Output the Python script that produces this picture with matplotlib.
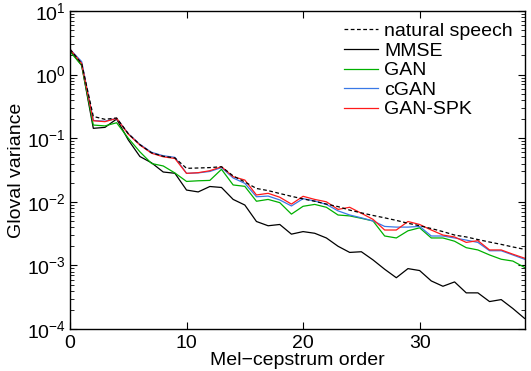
import matplotlib
matplotlib.use("Agg")
import matplotlib.pyplot as plt
import numpy as np

plt.rcParams['font.family'] = ['Liberation Sans', 'DejaVu Sans']
plt.rcParams['mathtext.fontset'] = 'custom'
plt.rcParams['mathtext.rm'] = 'Liberation Sans'
plt.rcParams['mathtext.it'] = 'Liberation Sans:italic'
plt.rcParams['mathtext.bf'] = 'Liberation Sans:bold'

order = list(range(40))

natural = [2.5, 1.5, 0.22, 0.198, 0.208, 0.118, 0.079, 0.059, 0.052, 0.049,
           0.0336, 0.034, 0.0345, 0.0356, 0.0255, 0.0205, 0.0162, 0.0150, 0.0135, 0.0122,
           0.0111, 0.0102, 0.0092, 0.0084, 0.0074, 0.0067, 0.0061, 0.0056, 0.0051, 0.0046,
           0.0042, 0.0038, 0.0034, 0.0030, 0.0028, 0.00255, 0.00233, 0.00214, 0.00195, 0.00179]

mmse = [2.4, 1.4, 0.143, 0.148, 0.20, 0.094, 0.0515, 0.041, 0.0294, 0.0281,
        0.0153, 0.0143, 0.0174, 0.0168, 0.0109, 0.0089, 0.0049, 0.0042, 0.0044, 0.0031,
        0.0034, 0.0032, 0.0027, 0.0020, 0.0016, 0.00164, 0.00122, 0.00087, 0.00064, 0.00089,
        0.00083, 0.00057, 0.00047, 0.00055, 0.00037, 0.00037, 0.00027, 0.00029, 0.00021, 0.000147]

gan = [2.3, 1.4, 0.161, 0.156, 0.175, 0.100, 0.061, 0.040, 0.0366, 0.0284,
       0.0209, 0.0214, 0.0217, 0.0324, 0.0184, 0.0175, 0.0102, 0.0109, 0.0097, 0.0064,
       0.0085, 0.0091, 0.0082, 0.0062, 0.0060, 0.0055, 0.0050, 0.0029, 0.0027, 0.0035,
       0.0039, 0.0027, 0.0027, 0.0024, 0.0019, 0.00175, 0.00146, 0.00125, 0.00117, 0.00093]

cgan = [2.5, 1.6, 0.19, 0.185, 0.205, 0.118, 0.080, 0.060, 0.053, 0.050,
        0.028, 0.0285, 0.030, 0.0345, 0.0237, 0.0195, 0.0120, 0.0123, 0.0107, 0.0086,
        0.0112, 0.0103, 0.0091, 0.0072, 0.0062, 0.0056, 0.0050, 0.0041, 0.0040, 0.0040,
        0.0041, 0.0029, 0.0029, 0.0027, 0.0025, 0.0023, 0.0017, 0.0017, 0.00146, 0.00125]

gan_spk = [2.5, 1.5, 0.188, 0.182, 0.205, 0.116, 0.078, 0.058, 0.051, 0.048,
           0.028, 0.0287, 0.0308, 0.0356, 0.0248, 0.022, 0.0128, 0.0136, 0.0118, 0.0092,
           0.0122, 0.0109, 0.0100, 0.0076, 0.0082, 0.0066, 0.0053, 0.0036, 0.0036, 0.0049,
           0.0044, 0.0036, 0.0030, 0.0028, 0.0023, 0.00245, 0.00175, 0.00175, 0.0015, 0.0013]

labels = ['natural speech', 'MMSE', 'GAN', 'cGAN', 'GAN-SPK']
xticks = [0, 10, 20, 30]

fig = plt.figure(figsize=(5.31, 3.71), dpi=100)
ax = fig.add_axes([70/531, 1-329/371, (524.5-70)/531, (329-11)/371])

lw = 0.9
ax.plot(order, mmse, color='black', lw=lw, label=labels[1])
ax.plot(order, gan, color='#00b000', lw=lw, label=labels[2])
ax.plot(order, cgan, color='#3a78e6', lw=lw, label=labels[3])
ax.plot(order, gan_spk, color='#ff1a1a', lw=lw, label=labels[4])
ax.plot(order, natural, color='black', lw=lw, dashes=(3, 2), label=labels[0])

ax.set_yscale('log')
ax.set_xlim(0, 39)
ax.set_ylim(1e-4, 1e1)
ax.set_xticks(xticks)
ax.tick_params(axis='both', which='both', direction='in', top=True, right=True,
               labelsize=14)
ax.tick_params(axis='x', which='major', pad=4)
ax.tick_params(axis='y', which='major', pad=3)
ax.tick_params(axis='both', which='major', length=5, width=0.8)
ax.tick_params(axis='y', which='minor', length=3, width=0.6)
for s in ax.spines.values():
    s.set_linewidth(1.0)

ax.set_xlabel('Mel\u2212cepstrum order', fontsize=14, labelpad=0)
ax.set_ylabel('Gloval variance', fontsize=14, labelpad=1)

h, l = ax.get_legend_handles_labels()
idx = [l.index(x) for x in labels]
ax.legend([h[i] for i in idx], labels, loc='upper right', frameon=False,
          fontsize=14, handlelength=1.75, handletextpad=0.3, labelspacing=0.1,
          borderaxespad=0.35, borderpad=0.25)

fig.savefig('out.png', dpi=100)
